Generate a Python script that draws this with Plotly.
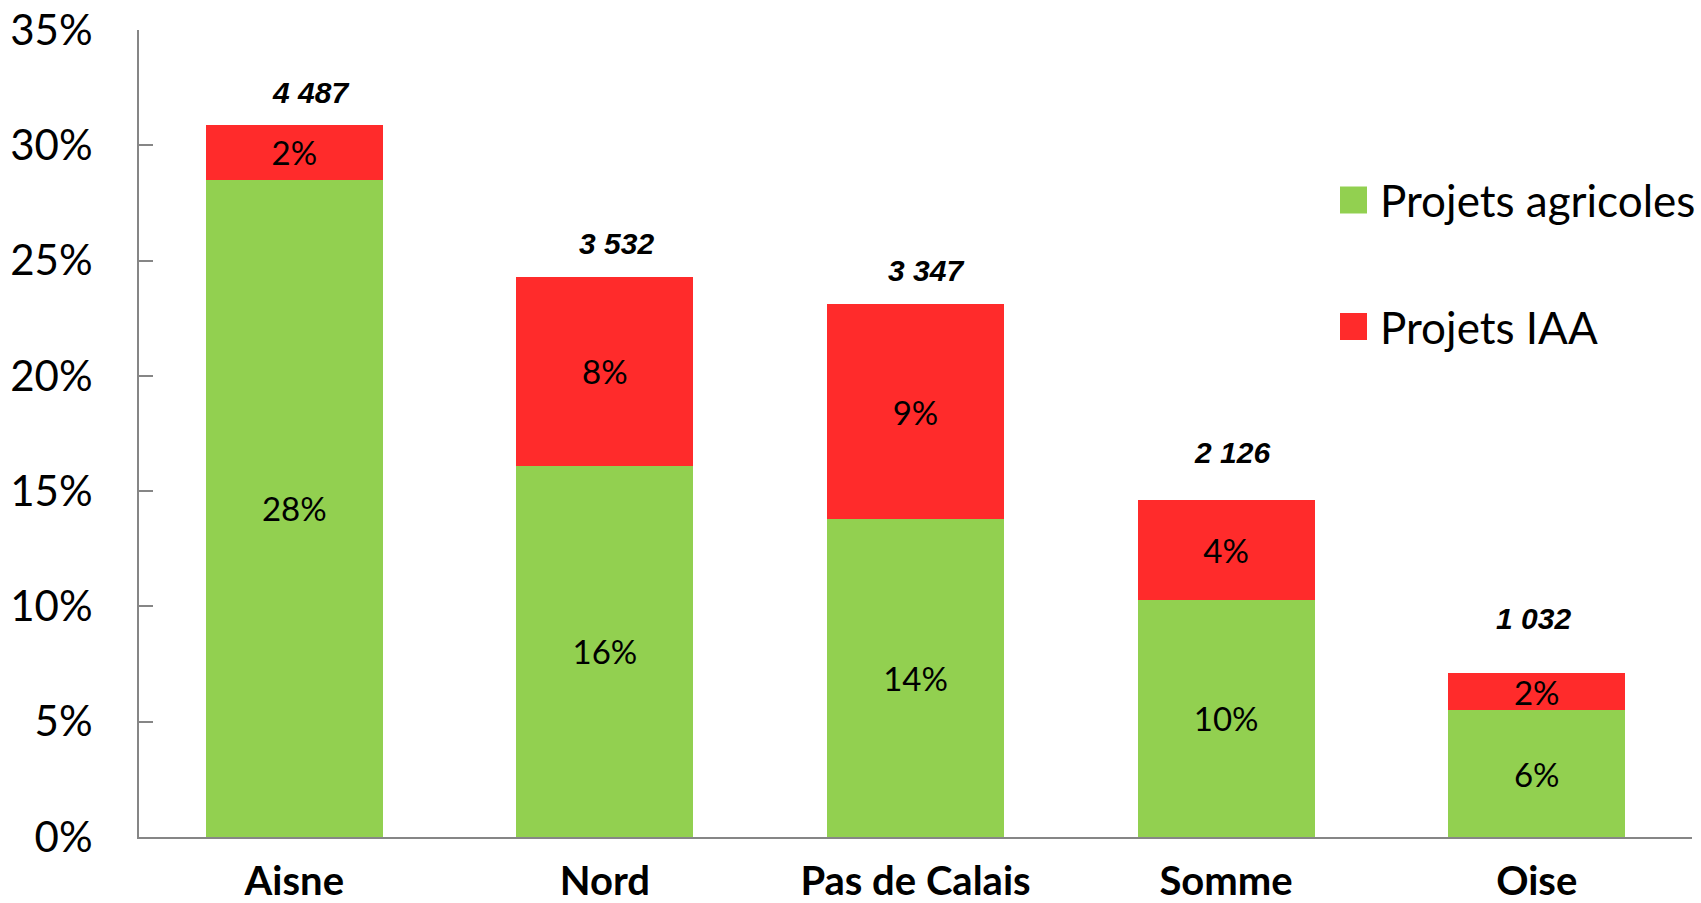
import plotly.graph_objects as go

# Data
departements = ["Aisne", "Nord", "Pas de Calais", "Somme", "Oise"]
projets_agricoles = [28.5, 16.1, 13.8, 10.3, 5.5]
projets_iaa = [2.4, 8.2, 9.3, 4.3, 1.6]
totaux = ["4 487", "3 532", "3 347", "2 126", "1 032"]
series_names = ["Projets agricoles", "Projets IAA"]
y_ticks = [0, 5, 10, 15, 20, 25, 30, 35]

GREEN = "#92D050"
RED = "#FF2B2B"
FONT = "Lato, 'Open Sans', sans-serif"

# plot area in pixels (for the hand-drawn legend)
W, H = 1701, 903
L, R, T, B = 139, 9, 30, 66
pw, ph = W - L - R, H - T - B


def px_x(x):
    return (x - L) / pw


def px_y(y):
    return (H - B - y) / ph


fig = go.Figure()

for name, vals, col in [(series_names[0], projets_agricoles, GREEN),
                        (series_names[1], projets_iaa, RED)]:
    fig.add_trace(go.Bar(
        x=departements,
        y=vals,
        name=name,
        marker=dict(color=col, line=dict(width=0)),
        width=0.57,
        text=[f"{round(v):.0f}%" for v in vals],
        textposition="inside",
        insidetextanchor="middle",
        constraintext="none",
        textfont=dict(family=FONT, size=33, color="black"),
        showlegend=False,
    ))

# totals above each bar
gaps = [32, 33, 34, 48, 55]
shifts = [16, 12, 10, 6, -3]
for d, a, b, t, g, s in zip(departements, projets_agricoles, projets_iaa, totaux, gaps, shifts):
    fig.add_annotation(
        x=d, y=a + b, text=f"<b><i>{t}</i></b>", showarrow=False,
        yshift=g, xshift=s, yanchor="middle",
        font=dict(family="'Liberation Sans', Arial, sans-serif", size=30, color="black"),
    )

# legend drawn by hand (large squares like the original)
for name, col, cy in [(series_names[0], GREEN, 200), (series_names[1], RED, 326.5)]:
    fig.add_shape(type="rect", xref="paper", yref="paper",
                  x0=px_x(1340), x1=px_x(1367), y0=px_y(cy + 13.5), y1=px_y(cy - 13.5),
                  fillcolor=col, line=dict(width=0))
    fig.add_annotation(xref="paper", yref="paper", x=px_x(1378), y=px_y(cy),
                       text=name, showarrow=False, xanchor="left", yanchor="middle",
                       font=dict(family=FONT, size=44, color="black"))

fig.update_layout(
    barmode="stack",
    width=W, height=H,
    margin=dict(l=L, r=R, t=T, b=B, autoexpand=False),
    plot_bgcolor="white",
    paper_bgcolor="white",
    showlegend=False,
)

fig.update_yaxes(
    range=[0, 35],
    tickvals=y_ticks,
    ticktext=[f"{v}%" for v in y_ticks],
    showgrid=False,
    zeroline=False,
    showline=True, linecolor="#868686", linewidth=2,
    ticks="inside", ticklen=14, tickcolor="#868686", tickwidth=2,
    ticklabelstandoff=36,
    automargin=False,
    tickfont=dict(family=FONT, size=42, color="black"),
)

fig.update_xaxes(
    range=[-0.5, 4.5],
    showgrid=False,
    showline=True, linecolor="#868686", linewidth=2,
    ticks="",
    ticklabelstandoff=8,
    automargin=False,
    tickfont=dict(family=FONT, size=40, color="black", weight="bold"),
)

# the page's default body margin would push the figure 8px off
fig.write_html("out.html", config={"displayModeBar": False},
               post_script="document.body.style.margin='0';document.body.style.overflow='hidden';")
